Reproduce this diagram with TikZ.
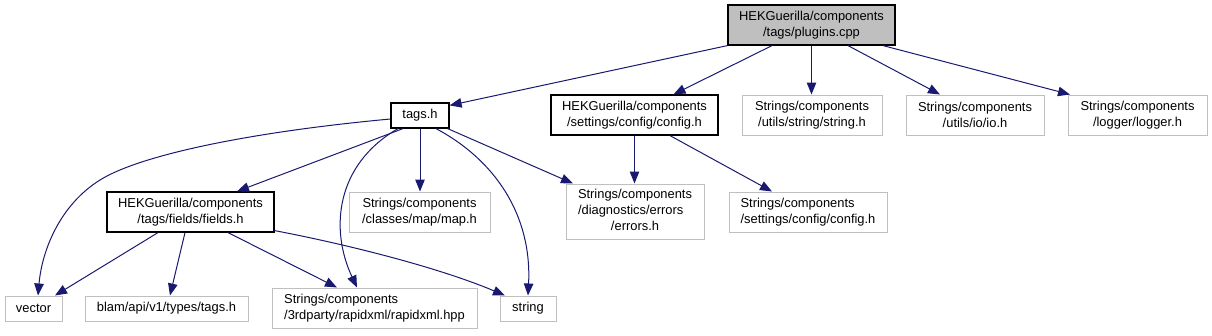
\documentclass[tikz,border=0pt]{standalone}
\usepackage{fontspec}
\setmainfont{Liberation Sans}
\usetikzlibrary{arrows.meta}
\definecolor{edgeblue}{HTML}{191970}
\definecolor{lgray}{HTML}{BFBFBF}
\tikzset{
  base/.style={draw, inner sep=0pt, align=center, font=\fontsize{12.9}{16}\selectfont, text=black},
  mainbox/.style={base, draw=black, line width=1.2pt},
  rootbox/.style={mainbox, fill=lgray},
  extbox/.style={base, draw=lgray, line width=1pt, fill=white},
  dep/.style={draw=edgeblue, line width=1pt, -{Triangle[length=12pt,width=9.5pt]}},
}
\begin{document}
\begin{tikzpicture}[x=1pt, y=-1pt]
\useasboundingbox (0,0) rectangle (1212,335);
% nodes
\node[rootbox, minimum width=167pt, minimum height=40pt] (root) at (811.5,25) {HEKGuerilla/components\\/tags/plugins.cpp};
\node[mainbox, minimum width=58pt, minimum height=25pt] (tags) at (420,115.5) {tags.h};
\node[mainbox, minimum width=167pt, minimum height=40pt] (hekconfig) at (634.5,115) {HEKGuerilla/components\\/settings/config/config.h};
\node[extbox, minimum width=140pt, minimum height=40pt] (stringh) at (812,115) {Strings/components\\/utils/string/string.h};
\node[extbox, minimum width=138pt, minimum height=40pt] (ioh) at (975,115) {Strings/components\\/utils/io/io.h};
\node[extbox, minimum width=139pt, minimum height=40pt] (logger) at (1137.5,115) {Strings/components\\/logger/logger.h};
\node[mainbox, minimum width=167pt, minimum height=40pt] (fields) at (190.5,212) {HEKGuerilla/components\\/tags/fields/fields.h};
\node[extbox, minimum width=141pt, minimum height=40pt] (map) at (419.5,212) {Strings/components\\/classes/map/map.h};
\node[extbox, minimum width=138pt, minimum height=55pt] (errors) at (635,211.5) {\begin{tabular}{@{}l@{}}Strings/components\\/diagnostics/errors\\\multicolumn{1}{@{}c@{}}{/errors.h}\end{tabular}};
\node[extbox, minimum width=158pt, minimum height=40pt, align=left] (strconfig) at (808,212) {Strings/components\\/settings/config/config.h};
\node[extbox, minimum width=57pt, minimum height=25pt] (vector) at (33.5,308.5) {vector};
\node[extbox, minimum width=163pt, minimum height=25pt] (blam) at (166.5,308.5) {blam/api/v1/types/tags.h};
\node[extbox, minimum width=205pt, minimum height=40pt, align=left] (rapid) at (374.5,308) {Strings/components\\/3rdparty/rapidxml/rapidxml.hpp};
\node[extbox, minimum width=56pt, minimum height=25pt] (string) at (528,308.5) {string};
% edges from root
\draw[dep] (root.south west) -- ([yshift=-3pt]tags.north east);
\draw[dep] ([xshift=-39.5pt]root.south) -- ([xshift=39pt]hekconfig.north);
\draw[dep] (root.south) -- (root.south |- stringh.north);
\draw[dep] ([xshift=36.5pt]root.south) -- ([xshift=-35pt]ioh.north);
\draw[dep] ([xshift=71.5pt]root.south) -- ([xshift=-67.5pt]logger.north);
% edges from tags
\draw[dep] ([xshift=-17pt]tags.south) -- ([xshift=46.5pt]fields.north);
\draw[dep] ([yshift=-3.5pt]tags.west) .. controls (250,132) and (140,155) .. (100,180) .. controls (60,205) and (42,250) .. ([xshift=4.5pt]vector.north);
\draw[dep] ([xshift=-22pt]tags.south) .. controls (335,165) and (330,230) .. ([xshift=-17.5pt]rapid.north);
\draw[dep] (tags.south) -- (tags.south |- map.north);
\draw[dep] ([xshift=16pt]tags.south) .. controls (495,160) and (532,215) .. (string.north);
\draw[dep] ([xshift=-2pt]tags.south east) -- ([xshift=-62pt]errors.north);
% edges from hekconfig
\draw[dep] (hekconfig.south) -- (hekconfig.south |- errors.north);
\draw[dep] ([xshift=35.5pt]hekconfig.south) -- ([xshift=-36pt]strconfig.north);
% edges from fields
\draw[dep] ([xshift=-32.5pt]fields.south) -- ([xshift=21.5pt]vector.north);
\draw[dep] ([xshift=-5.5pt]fields.south) -- ([xshift=3.5pt]blam.north);
\draw[dep] ([xshift=37.5pt]fields.south) -- ([xshift=-37.5pt]rapid.north);
\draw[dep] ([yshift=2pt]fields.south east) .. controls (350,245) and (440,268) .. ([xshift=-23pt]string.north);
\end{tikzpicture}
\end{document}
